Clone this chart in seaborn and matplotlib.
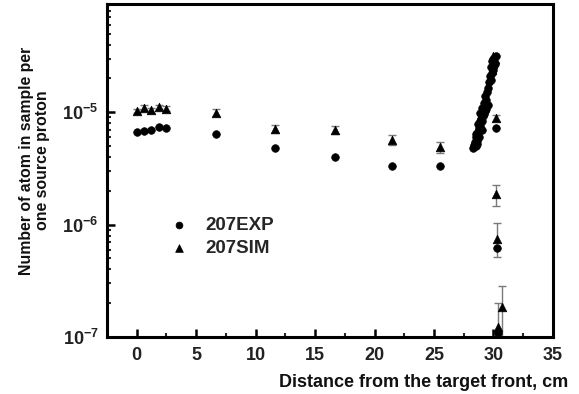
import numpy as np
import pandas as pd
import matplotlib
matplotlib.use("Agg")
import matplotlib.pyplot as plt
from matplotlib.ticker import LogLocator
import seaborn as sns

# ---- data (values in units of 1e-6 atoms per source proton) ----
exp_x = [0.0, 0.6, 1.2, 1.9, 2.5, 6.7, 11.6, 16.7, 21.5, 25.5, 30.25, 30.3, 30.35]
exp_y = [6.7, 6.8, 6.9, 7.4, 7.25, 6.4, 4.85, 4.0, 3.3, 3.3, 7.2, 0.62, 0.108]

exp_cluster_x = [28.3, 28.4, 28.45, 28.5, 28.6, 28.55, 28.7, 28.65, 28.8, 28.75,
                 28.9, 28.85, 29.0, 28.95, 29.1, 29.2, 29.3, 29.4, 29.5,
                 28.5, 28.7, 28.9, 29.05, 28.6, 28.8, 29.0,
                 29.2, 29.35, 29.3, 29.45, 29.5,
                 29.6, 29.8, 29.7, 29.9, 30.0, 29.8, 30.1, 29.9, 30.0, 30.2]
exp_cluster_y = [4.8, 5.1, 5.4, 5.0, 5.6, 6.0, 6.2, 6.6, 6.9, 7.3,
                 7.6, 8.0, 8.3, 8.8, 9.2, 9.6, 10.2, 10.8, 11.5,
                 6.4, 7.8, 9.8, 11.0, 5.2, 6.0, 7.0,
                 12.0, 12.8, 14.0, 15.2, 16.5,
                 18.5, 19.5, 21.0, 22.5, 24.0, 25.5, 27.0, 28.5, 30.0, 31.5]

sim_x = [0.0, 0.6, 1.2, 1.9, 2.5, 6.7, 11.6, 16.7, 21.5, 25.5, 30.25, 30.25, 30.3, 30.7, 30.4]
sim_y = [10.3, 11.0, 10.4, 11.1, 10.8, 9.9, 7.1, 7.0, 5.7, 4.9, 8.9, 1.86, 0.74, 0.184, 0.122]
sim_err_lo = [0.5, 0.5, 0.5, 0.5, 0.5, 0.7, 0.6, 0.6, 0.6, 0.55, 0.5, 0.38, 0.22, 0.09, 0.03]
sim_err_hi = [0.5, 0.5, 0.5, 0.5, 0.5, 0.7, 0.6, 0.6, 0.6, 0.55, 0.5, 0.40, 0.30, 0.10, 0.08]

sim_cluster_x = [29.9, 30.0, 30.1, 29.95, 28.9, 29.1]
sim_cluster_y = [24.0, 27.0, 30.0, 32.0, 9.0, 10.5]

x_ticks = [0, 5, 10, 15, 20, 25, 30, 35]
y_ticks = [1e-7, 1e-6, 1e-5]
y_tick_labels = ["10$^{-7}$", "10$^{-6}$", "10$^{-5}$"]

# ---- style ----
sns.set_style("ticks")
plt.rcParams["font.family"] = ["Liberation Sans", "DejaVu Sans"]
plt.rcParams["font.weight"] = "bold"
plt.rcParams["mathtext.fontset"] = "custom"
plt.rcParams["mathtext.rm"] = "Liberation Sans:bold"
plt.rcParams["mathtext.bf"] = "Liberation Sans:bold"
plt.rcParams["mathtext.default"] = "bf"

fig = plt.figure(figsize=(5.79, 3.94), dpi=100)
ax = fig.add_axes([0.1848, 0.1447, 0.955 - 0.1848, 0.9898 - 0.1447])

sc = 1e-6
df_exp = pd.DataFrame({"x": exp_x + exp_cluster_x,
                       "y": [v * sc for v in exp_y + exp_cluster_y]})
df_sim = pd.DataFrame({"x": sim_x + sim_cluster_x,
                       "y": [v * sc for v in sim_y + sim_cluster_y]})

ax.errorbar(sim_x, [v * sc for v in sim_y],
            yerr=[[v * sc for v in sim_err_lo], [v * sc for v in sim_err_hi]],
            fmt="none", ecolor="#7a7a7a", elinewidth=1.0, capsize=3, capthick=1.0, zorder=1)

sns.scatterplot(data=df_exp, x="x", y="y", marker="o", s=30, color="black",
                edgecolor="black", linewidth=0.5, ax=ax, label="207EXP", zorder=3)
sns.scatterplot(data=df_sim, x="x", y="y", marker="^", s=38, color="black",
                edgecolor="black", linewidth=0.5, ax=ax, label="207SIM", zorder=3)

ax.set_yscale("log")
ax.set_xlim(-2.5, 35)
ax.set_ylim(1e-7, 9.2e-5)
ax.set_xticks(x_ticks)
ax.set_xticklabels([str(t) for t in x_ticks])
ax.set_xticks([2.5, 7.5, 12.5, 17.5, 22.5, 27.5, 32.5], minor=True)
ax.set_yticks(y_ticks)
ax.set_yticklabels(y_tick_labels)
ax.yaxis.set_minor_locator(LogLocator(base=10, subs=np.arange(2, 10), numticks=20))

for side in ["left", "bottom", "right", "top"]:
    ax.spines[side].set_linewidth(2.2)
    ax.spines[side].set_color("black")

ax.tick_params(axis="both", which="major", direction="in", length=6, width=1.8,
               labelsize=13, colors="black", top=False, right=False)
ax.tick_params(axis="x", which="major", pad=7)
ax.tick_params(axis="y", which="major", pad=6)
ax.tick_params(axis="both", which="minor", direction="in", length=3, width=1.5,
               top=False, right=False, labelleft=False, labelbottom=False)
for lab in ax.get_xticklabels() + ax.get_yticklabels():
    lab.set_color("#222222")

ax.set_xlabel("Distance from the target front, cm", fontsize=13, fontweight="bold",
              ha="right", color="#111111")
ax.xaxis.set_label_coords(1.034, -0.112)
ax.set_ylabel("Number of atom in sample per\none source proton", fontsize=11.4,
              fontweight="bold", color="#111111", linespacing=1.05)
ax.yaxis.set_label_coords(-0.128, 0.53)

leg = ax.legend(loc="upper left", bbox_to_anchor=(0.103, 0.384), frameon=False,
                fontsize=13.5, handletextpad=0.4, labelspacing=0.32,
                markerscale=0.9, borderaxespad=0)
for t in leg.get_texts():
    t.set_fontweight("bold")

fig.savefig("out.png", dpi=100)
